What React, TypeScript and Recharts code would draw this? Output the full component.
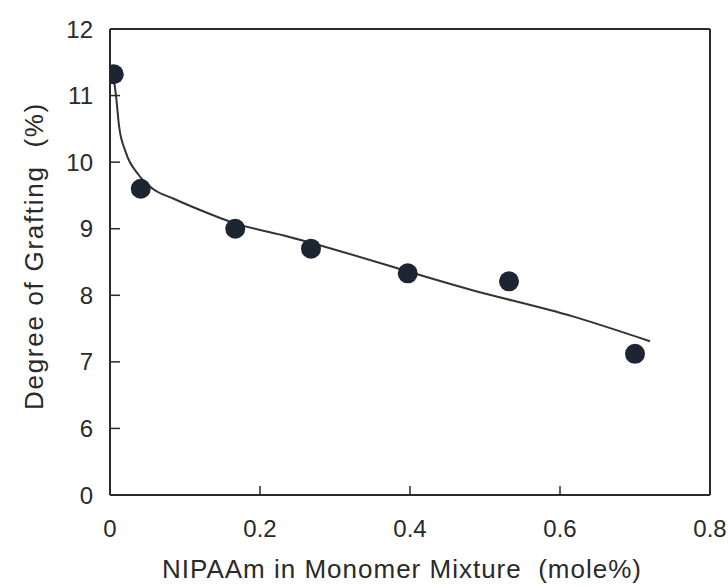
import React from 'react';
import { ComposedChart, Line, XAxis, YAxis, ReferenceLine } from 'recharts';

// measured points (NIPAAm mole fraction vs degree of grafting)
const pointX = [0.005, 0.041, 0.167, 0.268, 0.397, 0.532, 0.7];
const pointY = [11.32, 9.6, 9.0, 8.7, 8.33, 8.21, 7.12];

// fitted curve
const fitX = [0.005, 0.008, 0.012, 0.021, 0.038, 0.057, 0.085, 0.116, 0.167, 0.238, 0.482, 0.618, 0.72];
const fitY = [11.25, 11.0, 10.55, 10.15, 9.81, 9.6, 9.45, 9.3, 9.08, 8.88, 8.08, 7.68, 7.31];

const xTicks = [0, 0.2, 0.4, 0.6, 0.8];
// axis is broken below 6: the bottom tick (5) is labelled "0"
const yTicks = [5, 6, 7, 8, 9, 10, 11, 12];

const points = pointX.map((x, i) => ({ x, y: pointY[i] }));
const fit = fitX.map((x, i) => ({ x, y: fitY[i] }));

const FONT = '"Liberation Sans", Arial, sans-serif';
const INK = '#2a2a2a';
const Y_MARGIN = 17;
const X_MARGIN = 25;

const YTick = (props: any) => {
    const { x, y, payload } = props;
    const axisX = x + Y_MARGIN;
    const v = payload.value;
    const showLine = v !== 5 && v !== 12;
    return (
        <g>
            {showLine && <line x1={axisX} y1={y} x2={axisX + 10} y2={y} stroke={INK} strokeWidth={1.5} />}
            <text x={x} y={y} textAnchor="end" dominantBaseline="central" fontSize={24} fontFamily={FONT} fill={INK}>
                {v === 5 ? '0' : v}
            </text>
        </g>
    );
};

const XTick = (props: any) => {
    const { x, y, payload } = props;
    const axisY = y - X_MARGIN;
    const v = payload.value;
    const showLine = v !== 0 && v !== 0.8;
    return (
        <g>
            {showLine && <line x1={x} y1={axisY} x2={x} y2={axisY - 9} stroke={INK} strokeWidth={1.5} />}
            <text x={x} y={y} dy="0.71em" textAnchor="middle" fontSize={24} fontFamily={FONT} fill={INK}>
                {v === 0 ? '0' : v.toFixed(1)}
            </text>
        </g>
    );
};

const YLabel = (props: any) => {
    const vb = props.viewBox || { x: 0, y: 29, width: 110, height: 466 };
    const cx = vb.x + 43;
    const cy = vb.y + vb.height / 2 - 6;
    return (
        <text x={cx} y={cy} transform={`rotate(-90, ${cx}, ${cy})`} textAnchor="middle" fontSize={26}
            letterSpacing={1.7} fontFamily={FONT} fill={INK} style={{ whiteSpace: 'pre' }}>
            {'Degree of Grafting  (%)'}
        </text>
    );
};

const XLabel = (props: any) => {
    const vb = props.viewBox || { x: 110, y: 495, width: 600, height: 92 };
    const cx = vb.x + vb.width / 2 - 8;
    return (
        <text x={cx} y={578} textAnchor="middle" fontSize={26} letterSpacing={1}
            fontFamily={FONT} fill={INK} style={{ whiteSpace: 'pre' }}>
            {'NIPAAm in Monomer Mixture  (mole%)'}
        </text>
    );
};

export default function App() {
    return (
        <div style={{ position: 'absolute', left: 0, top: 0, width: 728, height: 587, background: '#fff' }}>
            <ComposedChart width={728} height={587} margin={{ top: 29, right: 18, bottom: 0, left: 0 }}>
                <XAxis
                    dataKey="x"
                    type="number"
                    domain={[0, 0.8]}
                    ticks={xTicks}
                    height={92}
                    tickSize={0}
                    tickMargin={X_MARGIN}
                    tickLine={false}
                    tick={<XTick />}
                    axisLine={{ stroke: INK, strokeWidth: 2 }}
                    label={XLabel}
                    allowDataOverflow
                />
                <YAxis
                    type="number"
                    domain={[5, 12]}
                    ticks={yTicks}
                    width={110}
                    tickSize={0}
                    tickMargin={Y_MARGIN}
                    tickLine={false}
                    tick={<YTick />}
                    axisLine={{ stroke: INK, strokeWidth: 2 }}
                    label={YLabel}
                    allowDataOverflow
                />
                <ReferenceLine y={12} stroke={INK} strokeWidth={2} />
                <ReferenceLine x={0.8} stroke={INK} strokeWidth={2} />
                <Line
                    data={fit}
                    dataKey="y"
                    type="monotone"
                    stroke="#333"
                    strokeWidth={2}
                    dot={false}
                    isAnimationActive={false}
                />
                <Line
                    data={points}
                    dataKey="y"
                    stroke="none"
                    dot={{ r: 10, fill: '#1d2532', stroke: 'none' }}
                    isAnimationActive={false}
                />
            </ComposedChart>
        </div>
    );
}
